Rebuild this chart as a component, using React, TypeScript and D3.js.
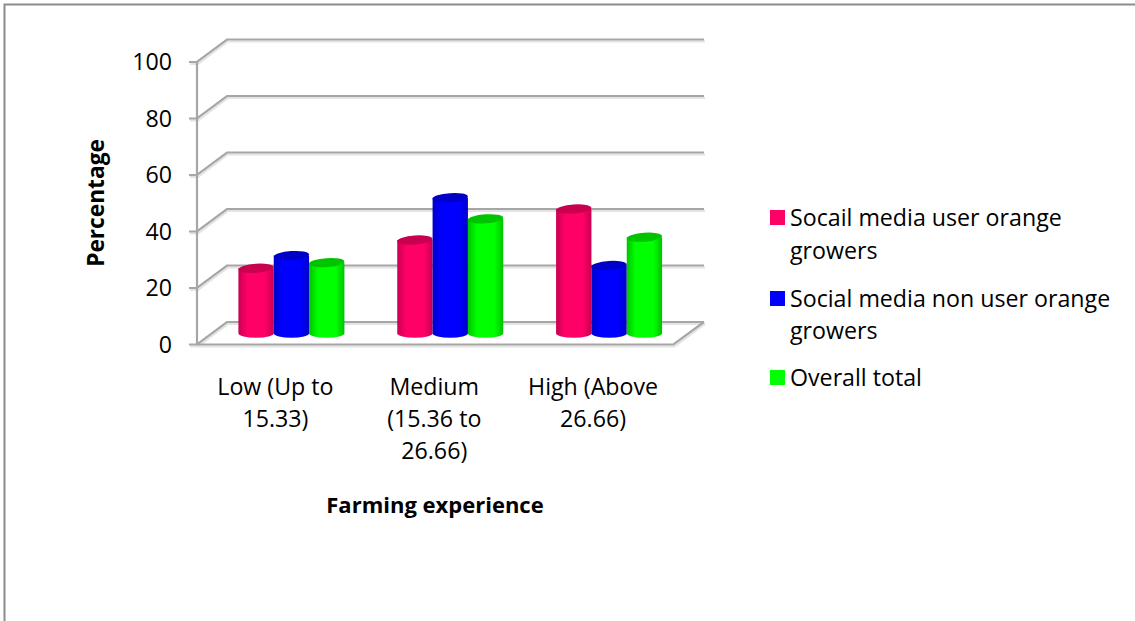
import * as d3 from 'd3'

const categories = [['Low (Up to', '15.33)'], ['Medium', '(15.36 to', '26.66)'], ['High (Above', '26.66)']]
const pink = [23, 33, 44]
const blue = [27.5, 48, 24]
const green = [25, 40.5, 34]
const seriesValues = [pink, blue, green]
const colors = ['#ff0066', '#0000ff', '#00ff00']
const darker = ['#c80050', '#0000c8', '#00c400']
const ticks = [0, 20, 40, 60, 80, 100]
const legendItems = [
  ['Socail media user orange', 'growers'],
  ['Social media non user orange', 'growers'],
  ['Overall total'],
]

const font = '"Open Sans", sans-serif'
const gridColor = '#a6a6a6'
const depthX = 30
const depthY = 22.5

const y = d3.scaleLinear().domain([0, 100]).range([344.5, 62])
const x0 = d3.scaleBand<number>().domain([0, 1, 2]).range([197, 673.5])
const barScale = d3.scaleBand<number>().domain([0, 1, 2]).range([-53, 53])
const legendY = [[218, 251], [299, 331], [378]]

export default function App() {
  const barW = barScale.bandwidth()
  const rx = barW / 2
  const ry = 4.5
  const gridPaths = ticks.map(t => `M189,${y(t)}H197L${197 + depthX},${y(t) - depthY}H704`)
  const floor = `M197,${y(0)}H${673.5}L704,${y(0) - depthY}`
  return (
    <svg width={1135} height={621} style={{ position: 'absolute', left: 0, top: 0, background: '#fff' }}>
      <defs>
        {colors.map((c, i) => (
          <linearGradient key={i} id={`cyl${i}`} x1="0" x2="1" y1="0" y2="0">
            <stop offset="0" stopColor={darker[i]} />
            <stop offset="0.25" stopColor={c} />
            <stop offset="0.75" stopColor={c} />
            <stop offset="1" stopColor={darker[i]} />
          </linearGradient>
        ))}
        <filter id="soft" x="-5%" y="-5%" width="110%" height="110%">
          <feGaussianBlur stdDeviation="0.5" />
        </filter>
      </defs>
      <path d="M4.5,621V4.5H1135" fill="none" stroke="#8c8c8c" strokeWidth={2} />
      <g fill="none" filter="url(#soft)">
        <g stroke="#e4e4e4" strokeWidth={2} transform="translate(1,2)">
          {gridPaths.map(d => <path key={d} d={d} />)}
          <path d={floor} />
        </g>
        <g stroke={gridColor} strokeWidth={2.2}>
          <line x1={197} x2={197} y1={y(0)} y2={y(100)} />
          {gridPaths.map(d => <path key={d} d={d} />)}
          <path d={floor} />
        </g>
      </g>
      <g filter="url(#soft)">
        {categories.map((_, ci) => {
          const cx = (x0(ci) as number) + x0.bandwidth() / 2 + depthX / 2
          const base = y(0) - depthY / 2
          return seriesValues.map((values, si) => {
            const left = cx + (barScale(si) as number)
            const h = y(0) - y(values[ci])
            const top = base - h
            return (
              <g key={`${ci}-${si}`}>
                <path
                  d={`M${left},${top}V${base}A${rx},${ry} 0 0 0 ${left + barW},${base}V${top}Z`}
                  fill={`url(#cyl${si})`}
                />
                <ellipse
                  cx={left + rx}
                  cy={top}
                  rx={rx}
                  ry={ry}
                  fill={darker[si]}
                  transform={`rotate(-4,${left + rx},${top})`}
                />
              </g>
            )
          })
        })}
      </g>
      <g fontFamily={font} fontSize={23.2} fill="#000">
        {ticks.map(t => (
          <text key={t} x={172} y={y(t) + 8} textAnchor="end">{t}</text>
        ))}
        {categories.map((lines, ci) =>
          lines.map((line, li) => (
            <text
              key={line}
              x={(x0(ci) as number) + x0.bandwidth() / 2 - 1}
              y={395 + li * 32}
              textAnchor="middle"
            >
              {line}
            </text>
          ))
        )}
        {legendItems.map((lines, i) => (
          <g key={i}>
            <rect x={770} y={legendY[i][0] - 8} width={15} height={15} fill={colors[i]} />
            {lines.map((line, li) => (
              <text key={line} x={790} y={legendY[i][li] + 8}>{line}</text>
            ))}
          </g>
        ))}
      </g>
      <g fontFamily={font} fontWeight={700} fill="#000">
        <text x={435} y={513} fontSize={22} textAnchor="middle">Farming experience</text>
        <text transform="translate(104,203) rotate(-90)" fontSize={22.7} textAnchor="middle">Percentage</text>
      </g>
    </svg>
  )
}
